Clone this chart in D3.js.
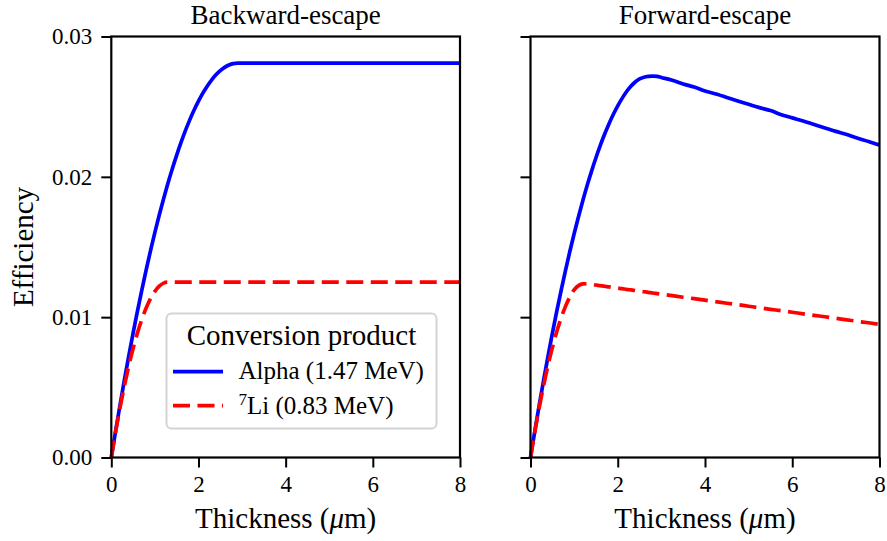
<!DOCTYPE html>
<html>
<head>
<meta charset="utf-8">
<script src="https://cdn.jsdelivr.net/npm/d3@7"></script>
<style>
  html, body { margin: 0; padding: 0; background: #ffffff; }
  svg { display: block; }
  text { font-family: "Liberation Serif", "Times New Roman", serif; fill: #000; }
</style>
</head>
<body>
<svg id="chart" width="887" height="541"></svg>
<script>
// Layer thickness grid (µm)
const thickness = [
  0, 0.1, 0.2, 0.3, 0.4, 0.5, 0.6, 0.7, 0.8, 0.9,
  1.0, 1.1, 1.2, 1.3, 1.4, 1.5, 1.6, 1.7, 1.8, 1.9,
  2.0, 2.1, 2.2, 2.3, 2.4, 2.5, 2.6, 2.7, 2.8, 2.9, 3.0,
  3.25, 3.5, 3.75, 4.0, 4.25, 4.5, 4.75, 5.0, 5.25, 5.5,
  5.75, 6.0, 6.25, 6.5, 6.75, 7.0, 7.25, 7.5, 7.75, 8.0
];

// Backward-escape efficiency
const backwardAlpha = [
  0, 0.00191, 0.00374, 0.00551, 0.00722, 0.00886, 0.01043, 0.01193, 0.01337, 0.01474,
  0.01604, 0.01728, 0.01844, 0.01955, 0.02058, 0.02155, 0.02245, 0.02329, 0.02406, 0.02476,
  0.02539, 0.02596, 0.02646, 0.02690, 0.02727, 0.02757, 0.02780, 0.02797, 0.02807, 0.02810, 0.02810,
  0.02810, 0.02810, 0.02810, 0.02810, 0.02810, 0.02810, 0.02810, 0.02810, 0.02810, 0.02810,
  0.02810, 0.02810, 0.02810, 0.02810, 0.02810, 0.02810, 0.02810, 0.02810, 0.02810, 0.02810
];
const backwardLi = [
  0, 0.00185, 0.00355, 0.00510, 0.00651, 0.00777, 0.00888, 0.00984, 0.01065, 0.01132,
  0.01184, 0.01221, 0.01243, 0.01250, 0.01250, 0.01250, 0.01250, 0.01250, 0.01250, 0.01250,
  0.01250, 0.01250, 0.01250, 0.01250, 0.01250, 0.01250, 0.01250, 0.01250, 0.01250, 0.01250, 0.01250,
  0.01250, 0.01250, 0.01250, 0.01250, 0.01250, 0.01250, 0.01250, 0.01250, 0.01250, 0.01250,
  0.01250, 0.01250, 0.01250, 0.01250, 0.01250, 0.01250, 0.01250, 0.01250, 0.01250, 0.01250
];

// Forward-escape efficiency
const forwardAlpha = [
  0, 0.00190, 0.00373, 0.00550, 0.00719, 0.00883, 0.01039, 0.01188, 0.01330, 0.01466,
  0.01594, 0.01716, 0.01831, 0.01940, 0.02041, 0.02136, 0.02224, 0.02305, 0.02379, 0.02446,
  0.02506, 0.02559, 0.02606, 0.02645, 0.02676, 0.02698, 0.02710, 0.02716, 0.02718, 0.02716, 0.02708,
  0.02688, 0.02662, 0.02640, 0.02612, 0.02590, 0.02566, 0.02541, 0.02517, 0.02493, 0.02472,
  0.02443, 0.02420, 0.02398, 0.02373, 0.02348, 0.02324, 0.02302, 0.02275, 0.02252, 0.02226
];
const forwardLi = [
  0, 0.00185, 0.00356, 0.00512, 0.00654, 0.00781, 0.00894, 0.00992, 0.01075, 0.01143,
  0.01195, 0.01225, 0.01237, 0.01238, 0.01234, 0.01229, 0.01225, 0.01220, 0.01216, 0.01211,
  0.01207, 0.01203, 0.01198, 0.01194, 0.01190, 0.01185, 0.01181, 0.01177, 0.01172, 0.01168, 0.01164,
  0.01153, 0.01142, 0.01132, 0.01121, 0.01110, 0.01099, 0.01089, 0.01078, 0.01067, 0.01056,
  0.01046, 0.01035, 0.01024, 0.01013, 0.01003, 0.00992, 0.00981, 0.00970, 0.00960, 0.00949
];

const xTicks = [0, 2, 4, 6, 8];
const yTicks = [0, 0.01, 0.02, 0.03];
const panelTitles = ["Backward-escape", "Forward-escape"];
const seriesNames = ["Alpha (1.47 MeV)", "Li (0.83 MeV)"];
const legendTitle = "Conversion product";

const svg = d3.select("#chart");

const plotTop = 36.5, plotBottom = 457.5;
const panels = [
  { left: 111.3, right: 460, title: panelTitles[0], alpha: backwardAlpha, li: backwardLi, yLabels: true },
  { left: 530.5, right: 879.5, title: panelTitles[1], alpha: forwardAlpha, li: forwardLi, yLabels: false }
];

const y = d3.scaleLinear().domain([0, 0.03]).range([plotBottom, plotTop]);

const alphaStyle = { color: "#0000ff", dash: null };
const liStyle = { color: "#ff0000", dash: "17,7.5" };
const lineWidth = 3.7;

panels.forEach((p) => {
  const x = d3.scaleLinear().domain([0, 8]).range([p.left, p.right]);
  const g = svg.append("g");

  // series lines
  const line = vals => d3.line()
    .x((d, k) => x(thickness[k]))
    .y(d => y(d))
    .curve(d3.curveMonotoneX)(vals);

  g.append("path")
    .attr("d", line(p.alpha))
    .attr("fill", "none")
    .attr("stroke", alphaStyle.color)
    .attr("stroke-width", lineWidth)
    .attr("stroke-linejoin", "round");

  g.append("path")
    .attr("d", line(p.li))
    .attr("fill", "none")
    .attr("stroke", liStyle.color)
    .attr("stroke-width", lineWidth)
    .attr("stroke-dasharray", liStyle.dash);

  // x axis
  const xAxis = g.append("g")
    .attr("transform", `translate(0,${plotBottom})`)
    .call(d3.axisBottom(x).tickValues(xTicks).tickSize(10).tickPadding(8).tickFormat(d3.format("d")));
  xAxis.select(".domain").remove();
  xAxis.selectAll(".tick line").attr("stroke", "#000").attr("stroke-width", 2);
  xAxis.selectAll(".tick text")
    .style("font-family", "Liberation Serif, serif")
    .attr("font-size", 23);

  // y axis
  const yAxis = g.append("g")
    .attr("transform", `translate(${p.left},0)`)
    .call(d3.axisLeft(y).tickValues(yTicks).tickSize(10).tickPadding(9)
      .tickFormat(p.yLabels ? d3.format(".2f") : () => ""));
  yAxis.select(".domain").remove();
  yAxis.selectAll(".tick line").attr("stroke", "#000").attr("stroke-width", 2);
  yAxis.selectAll(".tick text")
    .style("font-family", "Liberation Serif, serif")
    .attr("font-size", 23);

  // frame
  g.append("rect")
    .attr("x", p.left).attr("y", plotTop)
    .attr("width", p.right - p.left).attr("height", plotBottom - plotTop)
    .attr("fill", "none").attr("stroke", "#000").attr("stroke-width", 2.2);

  // title
  g.append("text")
    .attr("x", (p.left + p.right) / 2).attr("y", 24)
    .attr("text-anchor", "middle")
    .attr("font-size", 27)
    .text(p.title);

  // x label
  const xl = g.append("text")
    .attr("x", (p.left + p.right) / 2).attr("y", 528)
    .attr("text-anchor", "middle")
    .attr("font-size", 29);
  xl.append("tspan").text("Thickness (");
  xl.append("tspan").attr("font-style", "italic").text("μ");
  xl.append("tspan").text("m)");
});

// y label
svg.append("text")
  .attr("transform", `translate(33,${(plotTop + plotBottom) / 2}) rotate(-90)`)
  .attr("text-anchor", "middle")
  .attr("font-size", 29)
  .text("Efficiency");

// legend
const lg = svg.append("g");
lg.append("rect")
  .attr("x", 166.5).attr("y", 313.5)
  .attr("width", 270).attr("height", 115)
  .attr("rx", 5).attr("ry", 5)
  .attr("fill", "#ffffff").attr("fill-opacity", 0.8)
  .attr("stroke", "#d4d4d4").attr("stroke-width", 2);

lg.append("text")
  .attr("x", 301.5).attr("y", 345)
  .attr("text-anchor", "middle")
  .attr("font-size", 29)
  .text(legendTitle);

lg.append("line")
  .attr("x1", 173).attr("x2", 223).attr("y1", 371.7).attr("y2", 371.7)
  .attr("stroke", alphaStyle.color).attr("stroke-width", lineWidth);
lg.append("text")
  .attr("x", 238.5).attr("y", 379)
  .attr("font-size", 25)
  .text(seriesNames[0]);

lg.append("line")
  .attr("x1", 173).attr("x2", 223).attr("y1", 405.7).attr("y2", 405.7)
  .attr("stroke", liStyle.color).attr("stroke-width", lineWidth)
  .attr("stroke-dasharray", liStyle.dash);
const liText = lg.append("text")
  .attr("x", 238.5).attr("y", 414)
  .attr("font-size", 25);
liText.append("tspan").attr("font-size", 17).attr("dy", -9).text("7");
liText.append("tspan").attr("dy", 9).text(seriesNames[1]);
</script>
</body>
</html>
